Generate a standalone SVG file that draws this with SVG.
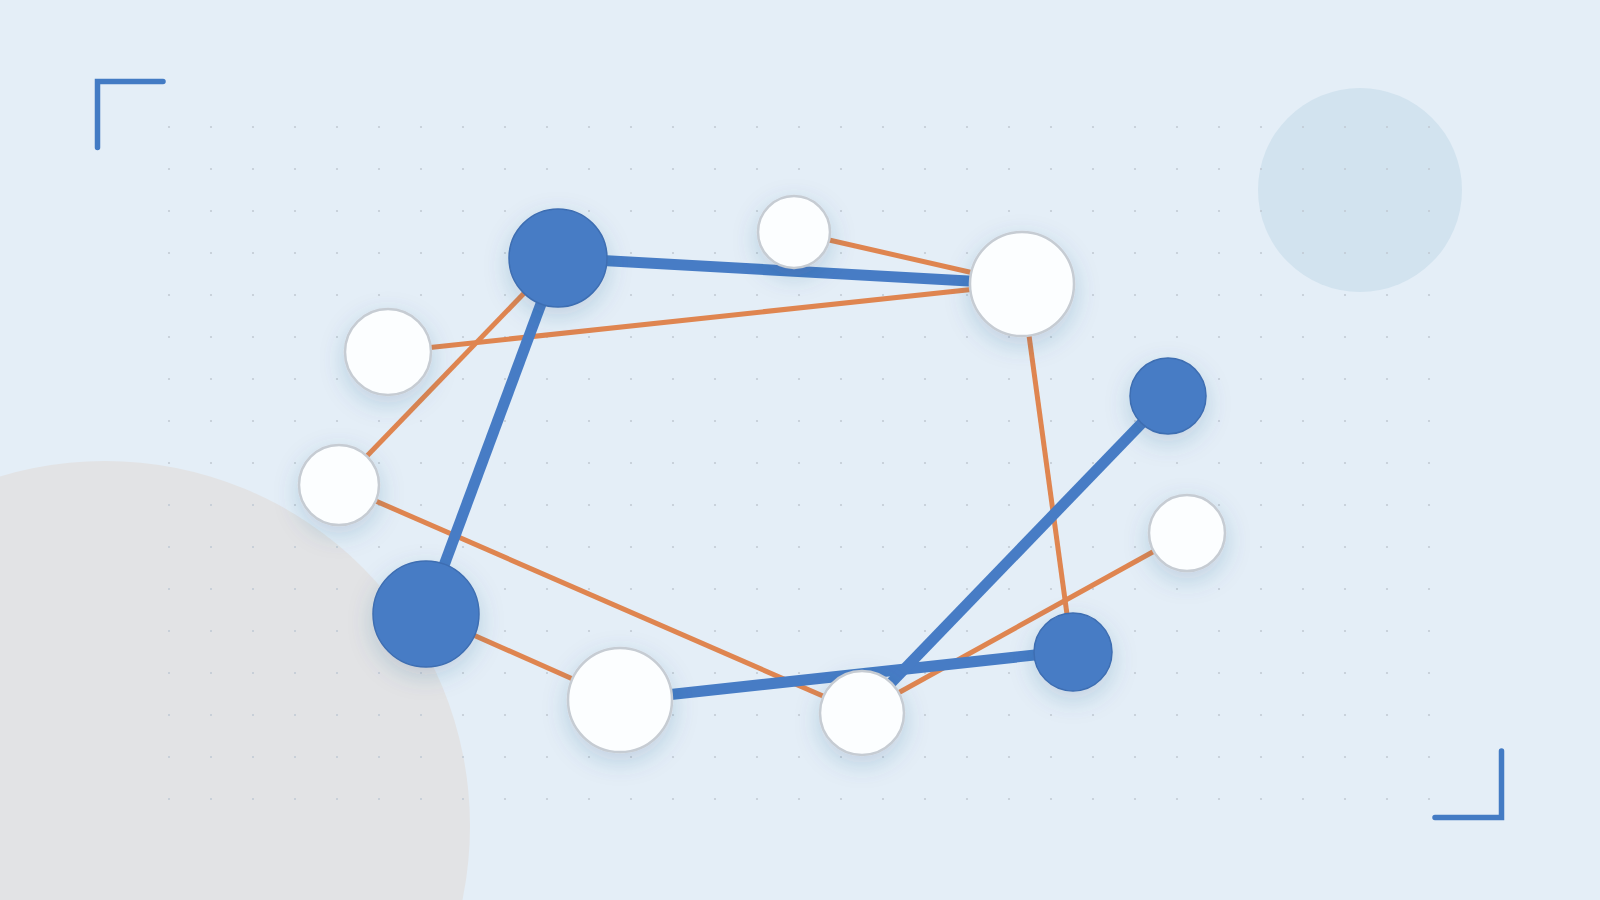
<svg xmlns="http://www.w3.org/2000/svg" width="1600" height="900" viewBox="0 0 1600 900">
  <style>
    .blue-edge { stroke: #477cc5; stroke-width: 11; stroke-linecap: butt; fill: none; }
    .orange-edge { stroke: #df8550; stroke-width: 5; stroke-linecap: butt; fill: none; }
    .node-blue { fill: #477cc5; stroke: #3e6eb2; stroke-width: 1.5; }
    .node-white { fill: #fcfeff; stroke: #c6ccd3; stroke-width: 2.5; }
    .bracket { stroke: #437bc4; stroke-width: 5.5; fill: none; stroke-linecap: round; stroke-linejoin: miter; }
  </style>
  <defs>
    <pattern id="dots" x="169" y="127" width="42" height="42" patternUnits="userSpaceOnUse">
      <circle cx="0" cy="0" r="1.1" fill="#c2cbd5"/>
      <circle cx="42" cy="0" r="1.1" fill="#c2cbd5"/>
      <circle cx="0" cy="42" r="1.1" fill="#c2cbd5"/>
      <circle cx="42" cy="42" r="1.1" fill="#c2cbd5"/>
    </pattern>
    <filter id="shadow" x="-80%" y="-80%" width="260%" height="260%">
      <feDropShadow dx="0" dy="8" stdDeviation="12" flood-color="#2f5785" flood-opacity="0.2"/>
    </filter>
  </defs>

  <rect x="0" y="0" width="1600" height="900" fill="#e4eef7"/>
  <circle cx="105" cy="826" r="365" fill="#e2e3e5"/>
  <circle cx="1360" cy="190" r="102" fill="#d2e3ef"/>
  <rect x="166" y="124" width="1267" height="678" fill="url(#dots)"/>

  <path class="bracket" d="M97.5,147.5 V81.5 H163"/>
  <path class="bracket" d="M1435,817.5 H1501.5 V751"/>

  <g id="connectors">
    <line class="orange-edge" x1="794" y1="232" x2="1022" y2="284"/>
    <line class="orange-edge" x1="388" y1="352" x2="1022" y2="284"/>
    <line class="orange-edge" x1="558" y1="258" x2="339" y2="485"/>
    <line class="orange-edge" x1="1022" y1="284" x2="1072" y2="651"/>
    <line class="orange-edge" x1="339" y1="485" x2="862" y2="713"/>
    <line class="orange-edge" x1="426" y1="614" x2="620" y2="700"/>
    <line class="orange-edge" x1="1187" y1="533" x2="862" y2="713"/>
    <line class="blue-edge" x1="558" y1="258" x2="1022" y2="284"/>
    <line class="blue-edge" x1="558" y1="258" x2="426" y2="614"/>
    <line class="blue-edge" x1="620" y1="700" x2="1072" y2="651"/>
    <line class="blue-edge" x1="1168" y1="396" x2="862" y2="713"/>
  </g>

  <g id="node-1" filter="url(#shadow)"><circle class="node-blue" cx="558" cy="258" r="49"/></g>
  <g id="node-2" filter="url(#shadow)"><circle class="node-white" cx="794" cy="232" r="36"/></g>
  <g id="node-3" filter="url(#shadow)"><circle class="node-white" cx="1022" cy="284" r="52"/></g>
  <g id="node-4" filter="url(#shadow)"><circle class="node-white" cx="388" cy="352" r="43"/></g>
  <g id="node-5" filter="url(#shadow)"><circle class="node-white" cx="339" cy="485" r="40"/></g>
  <g id="node-6" filter="url(#shadow)"><circle class="node-blue" cx="426" cy="614" r="53"/></g>
  <g id="node-7" filter="url(#shadow)"><circle class="node-white" cx="620" cy="700" r="52"/></g>
  <g id="node-8" filter="url(#shadow)"><circle class="node-white" cx="862" cy="713" r="42"/></g>
  <g id="node-9" filter="url(#shadow)"><circle class="node-blue" cx="1073" cy="652" r="39"/></g>
  <g id="node-10" filter="url(#shadow)"><circle class="node-blue" cx="1168" cy="396" r="38"/></g>
  <g id="node-11" filter="url(#shadow)"><circle class="node-white" cx="1187" cy="533" r="38"/></g>
</svg>
